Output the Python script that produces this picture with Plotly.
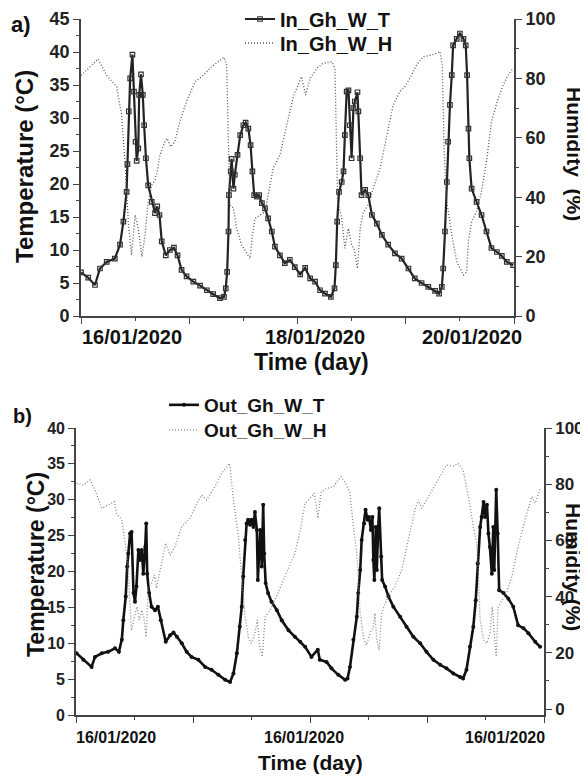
import plotly.graph_objects as go

# ---------------- data (hours from start of record) ----------------
top_T_h = [0.0, 1.6, 3.1, 4.2, 5.7, 7.5, 8.65, 9.4, 10.1, 10.3, 10.6, 10.9, 11.4, 11.75, 12.1, 12.35, 12.7, 12.9,
           13.3, 13.7, 14.0, 14.4, 14.9, 15.7, 16.4, 16.9, 17.4, 17.9, 18.8, 19.7, 20.6, 21.4, 22.3, 23.4, 24.9,
           26.4, 27.9, 29.3, 30.8, 31.7, 32.1, 32.4, 32.7, 32.8, 33.2, 33.4, 33.8, 34.1, 34.7, 35.3, 36.0, 36.5,
           37.1, 37.6, 38.0, 38.4, 39.0, 39.5, 40.1, 40.8, 41.5, 42.3, 43.0, 44.1, 45.2, 46.3, 47.4, 48.6, 49.7,
           50.8, 51.9, 53.0, 54.1, 55.4, 56.2, 56.5, 56.8, 57.2, 57.8, 58.2, 58.5, 58.9, 59.3, 59.6, 60.0, 60.4,
           60.7, 61.3, 61.5, 61.9, 62.2, 63.0, 63.7, 64.5, 65.6, 66.7, 68.1, 69.6, 71.1, 72.6, 74.0, 75.5, 77.0,
           78.5, 79.4, 80.0, 80.3, 80.7, 81.1, 81.4, 81.8, 82.2, 82.5, 83.3, 84.0, 84.8, 85.3, 85.6, 85.9, 86.1,
           86.6, 87.7, 88.8, 89.9, 91.0, 92.2, 93.3, 94.4, 95.8]
top_T_v = [6.6, 5.8, 4.7, 7.2, 8.2, 8.7, 10.8, 14.3, 18.8, 23.0, 31.0, 36.0, 39.6, 34.0, 26.4, 23.5, 25.4, 33.5,
           36.6, 33.5, 28.9, 23.9, 19.8, 17.3, 15.6, 16.6, 15.3, 11.3, 9.2, 10.0, 10.35, 9.2, 7.0, 6.0, 5.2,
           4.6, 3.9, 3.3, 2.7, 2.9, 4.2, 6.7, 12.8, 18.3, 21.9, 23.8, 19.3, 21.4, 24.4, 27.4, 28.9, 29.3,
           28.4, 25.9, 21.9, 18.3, 18.1, 18.3, 17.1, 16.3, 14.8, 12.8, 10.5, 9.2, 8.0, 8.5, 7.4, 6.3, 7.3,
           5.7, 5.2, 3.9, 3.4, 2.9, 4.2, 7.7, 14.3, 18.8, 20.3, 21.9, 27.4, 34.0, 34.2, 28.9, 23.9, 31.5,
           32.5, 33.9, 31.0, 23.9, 18.3, 19.1, 18.3, 15.3, 14.0, 12.3, 10.8, 9.5, 8.7, 7.2, 5.7, 5.0, 4.4,
           3.8, 3.4, 4.4, 7.2, 12.8, 20.3, 26.4, 32.0, 36.5, 41.0, 42.0, 42.8, 42.0, 41.0, 36.5, 28.4, 23.9,
           19.3, 17.3, 15.3, 12.8, 10.3, 9.7, 9.1, 8.2, 7.7]

top_H_h = [0.0, 3.8, 5.7, 7.9, 9.0, 9.75, 10.5, 11.2, 12.0, 12.7, 13.5, 14.2, 14.9, 15.7, 16.4, 16.9, 17.5, 18.6,
           19.1, 19.9, 20.8, 21.9, 23.4, 25.3, 26.8, 28.6, 30.4, 31.7, 32.3, 32.5, 32.8, 33.0, 33.8, 34.5, 35.6,
           36.7, 37.5, 38.0, 38.6, 39.7, 40.8, 41.9, 42.6, 44.1, 45.6, 47.1, 48.9, 49.8, 50.8, 52.3, 53.7, 55.6,
           56.3, 56.6, 56.9, 57.8, 58.5, 59.3, 60.0, 60.6, 61.3, 61.9, 62.6, 63.7, 64.8, 66.3, 67.8, 69.2, 70.7,
           71.8, 72.9, 74.4, 75.9, 77.8, 79.6, 80.1, 80.5, 81.1, 82.2, 83.3, 84.8, 85.5, 85.9, 86.6, 87.7, 88.8,
           89.9, 91.0, 92.5, 93.6, 94.7, 95.8]
top_H_v = [81.0, 86.5, 81.0, 77.2, 67.7, 52.0, 31.7, 20.5, 34.0, 29.5, 20.0, 27.3, 38.5, 44.1, 45.8, 48.6, 54.2, 58.7,
           59.8, 57.0, 58.7, 65.4, 72.2, 78.9, 80.6, 83.4, 85.6, 87.1, 84.5, 67.7, 48.6, 37.4, 36.3, 29.5, 23.9,
           21.1, 19.4, 27.3, 32.9, 34.0, 35.1, 44.1, 49.7, 54.2, 64.3, 74.0, 80.6, 74.4, 80.0, 83.4, 85.1, 85.6,
           83.4, 62.0, 38.5, 32.9, 22.8, 29.5, 23.9, 22.2, 16.0, 29.5, 35.1, 37.4, 43.0, 49.7, 60.9, 71.0, 75.5,
           77.2, 80.0, 84.5, 87.3, 87.9, 89.0, 84.5, 56.5, 38.5, 27.3, 18.3, 13.8, 14.9, 25.0, 31.7, 35.1, 41.9,
           52.0, 65.4, 73.3, 77.8, 81.1, 83.4]

bot_T_h = [0.1, 1.5, 3.2, 3.9, 5.3, 6.6, 8.0, 8.8, 9.4, 9.7, 10.2, 10.5, 10.7, 11.1, 11.4, 11.8, 12.1, 12.4, 12.8,
           13.1, 13.5, 13.8, 14.2, 14.4, 14.6, 15.0, 15.5, 16.2, 16.8, 17.4, 18.4, 19.3, 20.0, 20.7, 21.7, 22.7,
           23.7, 25.1, 26.5, 27.8, 29.2, 30.6, 31.6, 32.3, 33.0, 33.6, 34.0, 34.3, 34.7, 35.0, 35.3, 35.7, 36.0,
           36.4, 36.7, 37.1, 37.3, 37.5, 37.8, 38.1, 38.4, 38.6, 38.9, 39.4, 40.1, 41.2, 42.2, 43.6, 44.9, 46.0,
           47.0, 48.3, 49.6, 50.0, 51.4, 52.4, 53.8, 55.2, 55.7, 56.2, 56.9, 57.6, 57.9, 58.3, 58.6, 59.1, 59.4,
           59.8, 60.1, 60.5, 60.8, 61.0, 61.2, 61.5, 61.7, 62.0, 62.2, 62.6, 62.8, 63.4, 64.1, 65.1, 66.5, 67.8,
           69.2, 70.6, 71.9, 73.3, 74.7, 76.0, 77.4, 78.8, 79.4, 80.1, 80.8, 81.5, 82.0, 82.4, 82.9, 83.2, 83.6,
           83.9, 84.3, 84.6, 84.9, 85.3, 85.6, 85.8, 86.0, 86.2, 86.5, 86.8, 87.7, 88.7, 89.7, 90.7, 91.8, 92.8,
           94.2, 95.2]
bot_T_v = [8.6, 7.7, 6.7, 8.1, 8.6, 8.8, 9.3, 8.8, 10.5, 13.2, 16.5, 20.7, 22.5, 25.3, 25.5, 17.0, 15.8, 17.9, 23.0,
           21.6, 23.0, 19.7, 23.4, 26.7, 19.7, 17.0, 15.1, 14.6, 15.1, 13.2, 10.2, 11.1, 11.5, 10.9, 10.0, 8.8,
           8.1, 7.7, 6.7, 6.3, 5.6, 4.9, 4.6, 5.8, 8.6, 12.3, 15.1, 19.3, 24.4, 26.7, 27.2, 26.5, 27.2,
           26.2, 28.3, 25.8, 18.8, 22.5, 25.8, 20.7, 29.3, 22.5, 18.4, 17.0, 15.8, 14.6, 13.2, 11.8, 10.9, 10.2,
           9.5, 8.1, 9.1, 7.7, 7.4, 6.5, 5.6, 4.9, 5.1, 6.7, 10.5, 13.7, 17.0, 20.2, 24.4, 26.7, 28.6,
           27.2, 27.6, 25.8, 27.6, 21.6, 18.8, 26.2, 20.2, 26.2, 28.8, 22.1, 18.8, 17.9, 16.5, 15.1, 13.7, 12.3,
           10.9, 10.0, 8.8, 7.7, 7.0, 6.5, 5.8, 5.3, 5.1, 6.3, 9.5, 12.3, 16.0, 21.1, 26.2, 27.6, 29.7,
           27.6, 29.3, 25.3, 23.4, 19.7, 26.2, 20.2, 26.2, 31.4, 25.3, 17.4, 17.0, 16.2, 15.1, 12.5, 12.1, 11.4,
           10.2, 9.5]

bot_H_h = [0.1, 1.5, 2.9, 3.9, 5.3, 6.6, 7.9, 8.3, 9.4, 10.1, 10.6, 11.1, 11.4, 12.0, 12.5, 13.0, 13.5, 13.9, 14.4,
           14.8, 15.5, 16.1, 16.5, 17.4, 18.4, 19.3, 20.3, 21.7, 23.4, 24.8, 25.8, 26.8, 28.5, 29.9, 31.5, 32.3,
           33.3, 34.0, 34.7, 35.4, 36.0, 36.7, 37.2, 37.7, 38.2, 38.8, 39.8, 40.8, 42.2, 43.5, 44.9, 46.0, 47.0,
           48.0, 48.9, 49.6, 50.3, 51.4, 52.8, 53.8, 54.4, 55.5, 56.2, 56.9, 57.6, 58.3, 59.0, 59.6, 60.3, 61.0,
           61.3, 61.7, 62.2, 62.7, 63.4, 64.4, 65.4, 66.8, 68.2, 69.5, 70.2, 70.9, 71.9, 73.3, 74.7, 76.0, 77.4,
           78.4, 79.4, 80.5, 81.5, 82.2, 82.5, 82.9, 83.6, 84.3, 84.9, 85.4, 85.8, 86.2, 86.6, 87.3, 88.3, 89.4,
           90.7, 92.1, 93.5, 94.2, 95.2]
bot_H_v = [80.3, 79.7, 81.5, 77.9, 71.4, 72.6, 73.8, 69.6, 67.3, 59.0, 51.9, 36.4, 28.1, 32.8, 36.4, 31.7, 35.2, 32.8, 25.7,
           43.5, 44.7, 47.7, 43.0, 50.6, 59.0, 54.8, 57.8, 64.9, 67.9, 73.2, 76.2, 74.4, 79.1, 83.9, 87.4, 74.4,
           61.3, 47.1, 32.8, 25.2, 23.4, 26.9, 31.7, 22.2, 18.6, 32.8, 35.2, 38.8, 44.7, 49.5, 55.4, 63.7, 73.2,
           75.0, 76.8, 67.9, 77.3, 78.5, 79.1, 81.5, 82.7, 79.7, 76.8, 64.9, 55.4, 34.1, 25.2, 22.8, 26.9, 29.3,
           34.1, 24.6, 21.0, 34.1, 37.6, 41.2, 43.5, 49.5, 60.1, 70.8, 74.4, 71.4, 74.4, 78.5, 82.7, 86.8, 86.5,
           87.4, 85.1, 75.6, 64.9, 59.0, 49.5, 31.7, 24.6, 23.4, 26.9, 36.4, 26.9, 18.6, 36.4, 38.2, 41.2, 47.1,
           57.8, 67.3, 75.6, 73.2, 78.5]

top_tick_pos = [11.3, 51.9, 86.7]
top_tick_text = ["16/01/2020", "18/01/2020", "20/01/2020"]
bot_tick_pos = [8.3, 46.8, 88.1]
bot_tick_text = ["16/01/2020", "16/01/2020", "16/01/2020"]

FONT = "Liberation Sans"
AX = "#444444"
OFF = 8                      # page body margin of the browser
W, H = 588 - OFF, 776 - OFF  # figure size so that it fills the window


def px(x):
    return (x - OFF) / W


def py(y):
    return 1 - (y - OFF) / H


fig = go.Figure()

# ---------------- top panel ----------------
fig.add_trace(go.Scatter(x=top_T_h, y=top_T_v, name="In_Gh_W_T", mode="lines+markers",
                         line=dict(color="#222222", width=2.2),
                         marker=dict(symbol="square-open", size=4.5, color="#333333", line=dict(width=1.2)),
                         xaxis="x", yaxis="y", legend="legend"))
fig.add_trace(go.Scatter(x=top_H_h, y=top_H_v, name="In_Gh_W_H", mode="lines",
                         line=dict(color="#555555", width=1.3, dash="1px,2px"),
                         xaxis="x", yaxis="y2", legend="legend3"))

# ---------------- bottom panel ----------------
fig.add_trace(go.Scatter(x=bot_T_h, y=bot_T_v, name="Out_Gh_W_T", mode="lines+markers",
                         line=dict(color="#111111", width=2.6),
                         marker=dict(symbol="circle", size=4, color="#111111"),
                         xaxis="x2", yaxis="y3", legend="legend2"))
fig.add_trace(go.Scatter(x=bot_H_h, y=bot_H_v, name="Out_Gh_W_H", mode="lines",
                         line=dict(color="#888888", width=1.3, dash="1px,2px"),
                         xaxis="x2", yaxis="y4", legend="legend4"))

tickfont_big = dict(family=FONT, size=18, color="#222222", weight="bold")
tickfont_small = dict(family=FONT, size=16, color="#222222", weight="bold")


def xax(domain, anchor):
    return dict(domain=domain, anchor=anchor, range=[0, 96], tickmode="array",
                tickvals=[0, 24, 48, 72, 96], showticklabels=False, ticks="outside", ticklen=6,
                tickwidth=1.3, tickcolor=AX, showline=True, linecolor=AX, linewidth=1.6,
                showgrid=False, zeroline=False, automargin=False,
                minor=dict(tickmode="array", tickvals=[12, 36, 60, 84], ticks="outside",
                           ticklen=3, tickwidth=1.3, tickcolor=AX))


def yax(domain, anchor, rng, dtick, mdtick, font, side="left", overlaying=None):
    d = dict(domain=domain, anchor=anchor, range=rng, tick0=0, dtick=dtick, ticks="outside",
             ticklen=6, tickwidth=1.3, tickcolor=AX, showline=True, linecolor=AX, linewidth=1.6,
             showgrid=False, zeroline=False, tickfont=font, side=side, automargin=False,
             minor=dict(tick0=0, dtick=mdtick, ticks="outside", ticklen=3, tickwidth=1.3,
                        tickcolor=AX))
    if overlaying:
        d["overlaying"] = overlaying
    return d


top_x = [px(81), px(514)]
top_y = [py(316), py(19)]
bot_x = [px(76), px(544)]
bot_y = [py(715), py(428)]


def ann(x, y, text, size, angle=0, xref="paper"):
    return dict(x=x, y=y, xref=xref, yref="paper", text=text, textangle=angle, showarrow=False,
                xanchor="center", yanchor="middle",
                font=dict(family=FONT, size=size, color="#111111", weight="bold"))


annotations = []
for p, t in zip(top_tick_pos, top_tick_text):
    annotations.append(ann(p, py(337), t, 20, xref="x"))
for p, t in zip(bot_tick_pos, bot_tick_text):
    annotations.append(ann(p, py(737), t, 16, xref="x2"))

annotations += [
    ann(px(311), py(362), "Time (day)", 23),
    ann(px(310), py(762), "Time (day)", 21),
    ann(px(24), py(167), "Temperature (°C)", 24, -90),
    ann(px(36), py(565), "Temperature (°C)", 23, -90),
    ann(px(574), py(154), "Humidity  (%)", 21, 90),
    ann(px(574), py(567), "Humidity (%)", 21, 90),
    ann(px(21), py(24), "a)", 22),
    ann(px(22), py(416), "b)", 20),
]


def leg(x, y, size):
    return dict(x=px(x), y=py(y), xanchor="left", yanchor="middle", bgcolor="rgba(0,0,0,0)",
                font=dict(family=FONT, size=size, color="#111111", weight="bold"),
                itemwidth=30, borderwidth=0)


fig.update_layout(
    width=W, height=H, margin=dict(l=0, r=0, t=0, b=0, autoexpand=False),
    paper_bgcolor="white", plot_bgcolor="white",
    font=dict(family=FONT, color="#222222"),
    xaxis=xax(top_x, "y"),
    yaxis=yax(top_y, "x", [0, 45], 5, 2.5, tickfont_big),
    yaxis2=yax(top_y, "x", [0, 100], 20, 10, tickfont_big, side="right", overlaying="y"),
    xaxis2=xax(bot_x, "y3"),
    yaxis3=yax(bot_y, "x2", [0, 40], 5, 2.5, tickfont_small),
    yaxis4=yax(bot_y, "x2", [-2.1, 100], 20, 10,
               dict(family=FONT, size=17, color="#222222", weight="bold"),
               side="right", overlaying="y3"),
    legend=leg(240, 19, 20),
    legend3=leg(240, 43, 20),
    legend2=leg(164, 405, 19),
    legend4=leg(164, 430, 19),
    annotations=annotations,
    showlegend=True,
)

fig.write_html("out.html")
